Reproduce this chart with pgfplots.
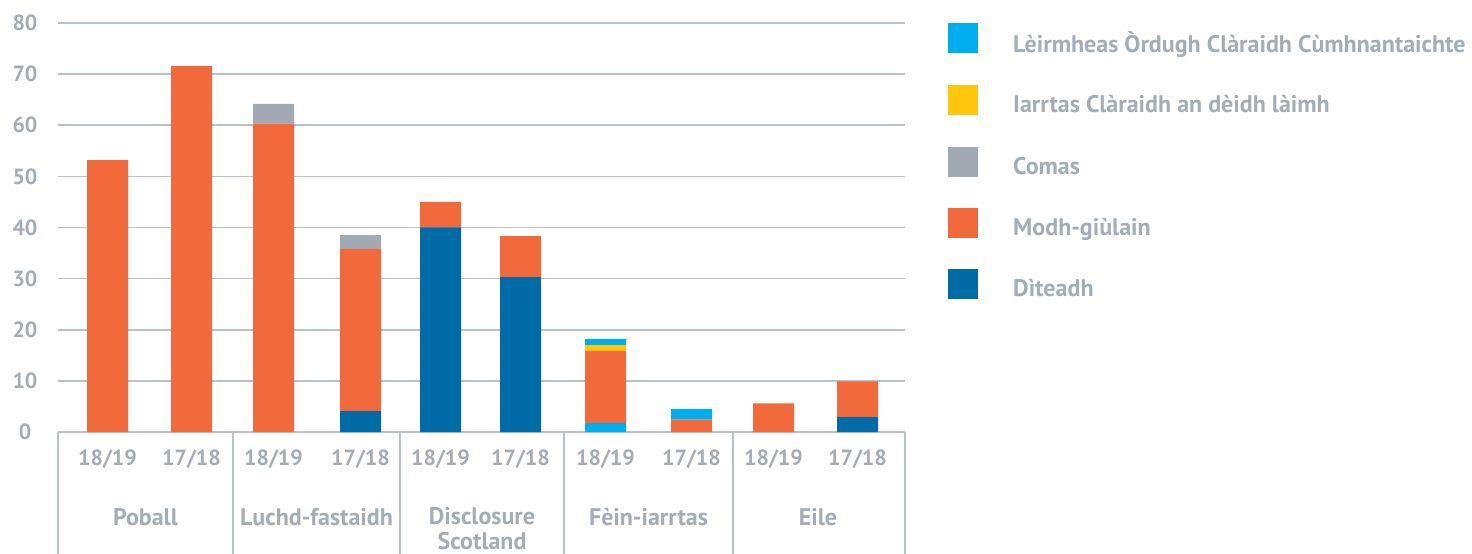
\documentclass[border=0pt]{standalone}
\usepackage{pgfplots}
\pgfplotsset{compat=1.18}
\usepackage{pgfplotstable}
\usepackage{fontspec}
\setmainfont{PT Sans}
\definecolor{leir}{HTML}{00AEEF}
\definecolor{iarr}{HTML}{FFC60B}
\definecolor{comas}{HTML}{A1AAB3}
\definecolor{modh}{HTML}{F26A3C}
\definecolor{dit}{HTML}{006BA6}
\definecolor{textc}{HTML}{A3ADB5}
\definecolor{gridc}{HTML}{BAC2C9}
\pgfplotstableread{
x dit modh comas iarr leir leirb
107.5 0 53.2 0 0 0 0
191.5 0 71.6 0 0 0 0
273.5 0 60.3 3.9 0 0 0
360.5 4.1 31.7 2.7 0 0 0
440.5 40 5 0 0 0 0
520.5 30.3 8 0 0 0 0
605.5 0 14.1 0 1.2 1.2 1.7
691.5 0 2.4 0 0 2.1 0
773.5 0 5.6 0 0 0 0
857.5 2.9 7 0 0 0 0
}\data
\begin{document}
\begin{tikzpicture}
\begin{axis}[
  at={(58pt,122pt)}, anchor=south west,
  scale only axis, width=847pt, height=409pt,
  xmin=58, xmax=905, ymin=0, ymax=80,
  ybar stacked, bar width=41,
  ytick={0,10,...,80},
  ymajorgrids, grid style={line width=1.6pt, color=gridc},
  axis line style={draw=none},
  major tick length=0pt,
  xtick={107.5,191.5,273.5,360.5,440.5,520.5,605.5,691.5,773.5,857.5},
  xticklabels={18/19,17/18,18/19,17/18,18/19,17/18,18/19,17/18,18/19,17/18},
  ticklabel style={font=\bfseries\fontsize{22}{26}\selectfont, text=textc},
  /pgf/number format/assume math mode=true,
  yticklabel style={anchor=center, xshift=-33pt},
  xticklabel style={anchor=center, yshift=-27pt},
  clip=false,
  reverse legend,
  legend style={at={(axis description cs:1.0508,1.0)}, anchor=north west,
    draw=none, fill=none, inner sep=0pt, row sep=31.3pt, column sep=35pt,
    nodes={inner sep=0pt},
    font=\bfseries\fontsize{24}{28}\selectfont, text=textc},
  legend cell align=left,
  legend image code/.code={\fill[#1,draw=none] (0pt,-10.4pt) rectangle (30pt,19.6pt);},
]
\addplot[fill=leir, draw=none, forget plot] table[x=x,y=leirb]{\data};
\addplot[fill=dit, draw=none] table[x=x,y=dit]{\data};
\addplot[fill=modh, draw=none] table[x=x,y=modh]{\data};
\addplot[fill=comas, draw=none] table[x=x,y=comas]{\data};
\addplot[fill=iarr, draw=none] table[x=x,y=iarr]{\data};
\addplot[fill=leir, draw=none] table[x=x,y=leir]{\data};
\legend{Dìteadh,Modh-giùlain,Comas,Iarrtas Clàraidh an dèidh làimh,Lèirmheas Òrdugh Clàraidh Cùmhnantaichte}
\draw[gridc, line width=1.5pt] (axis cs:58,0) -- ++(0pt,-140pt);
\draw[gridc, line width=1.5pt] (axis cs:233,0) -- ++(0pt,-140pt);
\draw[gridc, line width=1.5pt] (axis cs:400,0) -- ++(0pt,-140pt);
\draw[gridc, line width=1.5pt] (axis cs:564,0) -- ++(0pt,-140pt);
\draw[gridc, line width=1.5pt] (axis cs:733,0) -- ++(0pt,-140pt);
\draw[gridc, line width=1.5pt] (axis cs:905,0) -- ++(0pt,-140pt);
\node[font=\bfseries\fontsize{24}{28}\selectfont, text=textc, anchor=base] at (axis cs:145.5,0) [yshift=-93.7pt] {Poball};
\node[font=\bfseries\fontsize{24}{28}\selectfont, text=textc, anchor=base] at (axis cs:316.5,0) [yshift=-93.7pt] {Luchd-fastaidh};
\node[font=\bfseries\fontsize{24}{28}\selectfont, text=textc, anchor=base] at (axis cs:482,0) [yshift=-92.7pt] {Disclosure};
\node[font=\bfseries\fontsize{24}{28}\selectfont, text=textc, anchor=base] at (axis cs:482,0) [yshift=-117.5pt] {Scotland};
\node[font=\bfseries\fontsize{24}{28}\selectfont, text=textc, anchor=base] at (axis cs:648.5,0) [yshift=-93.7pt] {Fèin-iarrtas};
\node[font=\bfseries\fontsize{24}{28}\selectfont, text=textc, anchor=base] at (axis cs:818,0) [yshift=-93.7pt] {Eile};
\end{axis}
\pgfresetboundingbox
\path[use as bounding box] (0pt,0pt) rectangle (1472pt,554pt);
\end{tikzpicture}
\end{document}
